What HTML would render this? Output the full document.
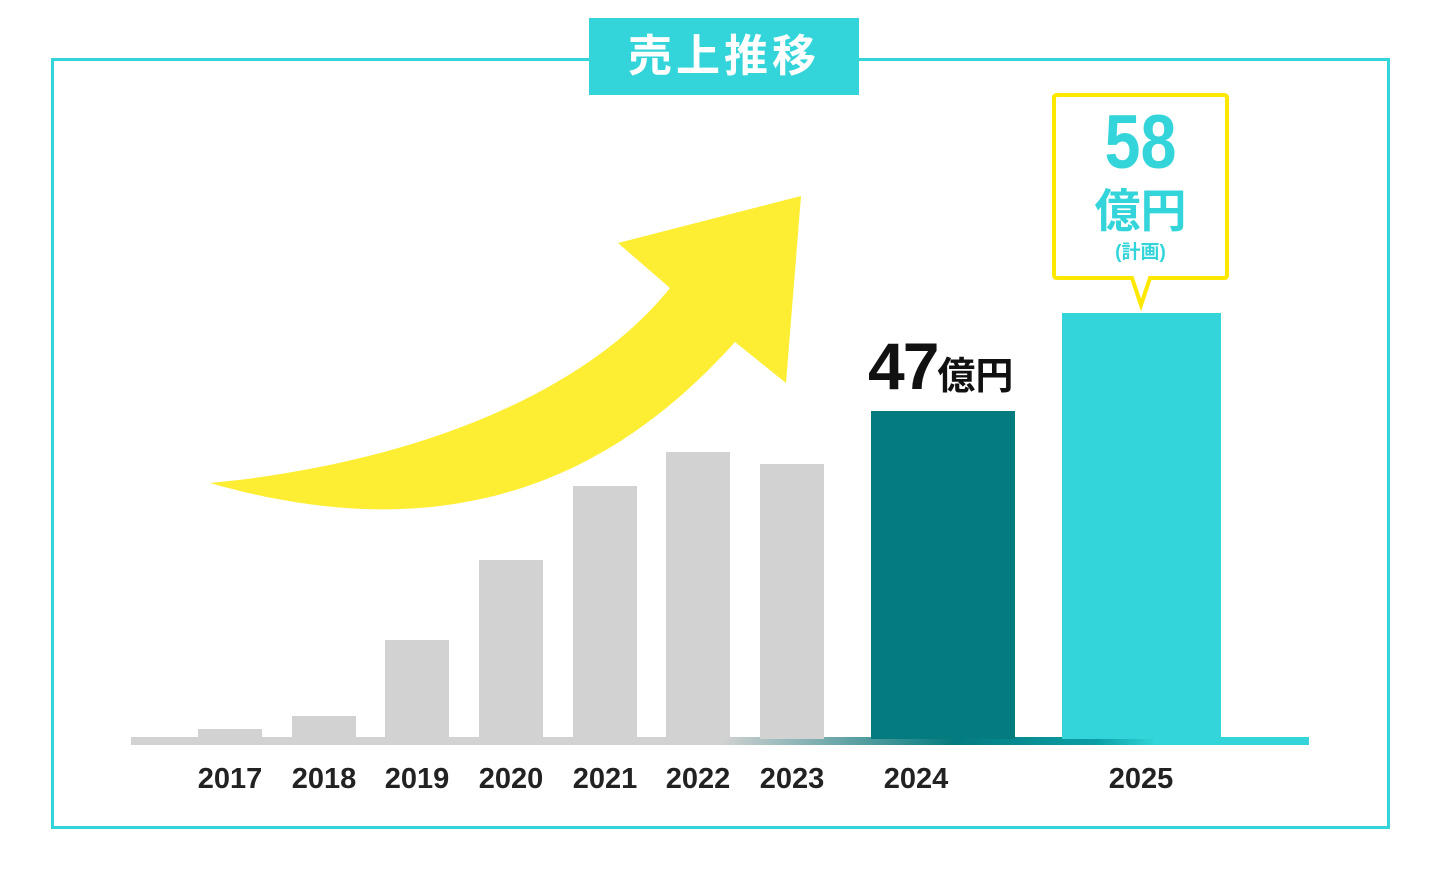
<!DOCTYPE html>
<html><head><meta charset="utf-8"><style>
body{margin:0;width:1440px;height:880px;background:#fff;position:relative;overflow:hidden;font-family:"Liberation Sans","Noto Sans CJK JP",sans-serif}
.a{position:absolute}
.frame{left:51px;top:58px;width:1333px;height:765px;border:3px solid #33d5da}
.title{left:589px;top:18px;width:270px;height:77px;background:#33d5da;color:#fff;font-size:44px;font-weight:bold;text-align:center;line-height:77px;letter-spacing:4px}
.g{background:#d2d2d2}
.yr{top:763px;font-size:29px;font-weight:bold;color:#222;width:100px;text-align:center;font-family:"Liberation Sans Narrow","Liberation Sans",sans-serif}
</style></head><body>
<div class="a frame"></div>
<div class="a title">売上推移</div>
<svg class="a" style="left:0;top:0" width="1440" height="880">
<path d="M210,483 C400,465 580,400 670,288 L618,243 L801,196 L786,383 L735,342 C620,470 460,555 210,483 Z" fill="#fdee33"/>
<defs><linearGradient id="bl" x1="0" x2="1"><stop offset="0" stop-color="#d2d2d2"/><stop offset="0.5" stop-color="#d2d2d2"/><stop offset="0.7" stop-color="#037b7f"/><stop offset="0.82" stop-color="#0a9fa5"/><stop offset="0.87" stop-color="#33d5da"/><stop offset="1" stop-color="#33d5da"/></linearGradient></defs>
<rect x="131" y="737" width="1178" height="8" fill="url(#bl)"/>
<path d="M1057,95 H1224 Q1227,95 1227,98 V275 Q1227,278 1224,278 H1150 L1141,305 L1132,278 H1057 Q1054,278 1054,275 V98 Q1054,95 1057,95 Z" fill="#fff" stroke="#ffe800" stroke-width="4"/>
</svg>
<div class="a g" style="left:198px;top:729px;width:64px;height:10px"></div>
<div class="a g" style="left:292px;top:716px;width:64px;height:23px"></div>
<div class="a g" style="left:385px;top:640px;width:64px;height:99px"></div>
<div class="a g" style="left:479px;top:560px;width:64px;height:179px"></div>
<div class="a g" style="left:573px;top:486px;width:64px;height:253px"></div>
<div class="a g" style="left:666px;top:452px;width:64px;height:287px"></div>
<div class="a g" style="left:760px;top:464px;width:64px;height:275px"></div>
<div class="a" style="left:871px;top:411px;width:144px;height:328px;background:#037b7f"></div>
<div class="a" style="left:1062px;top:313px;width:159px;height:426px;background:#33d5da"></div>
<div class="a yr" style="left:180px">2017</div>
<div class="a yr" style="left:274px">2018</div>
<div class="a yr" style="left:367px">2019</div>
<div class="a yr" style="left:461px">2020</div>
<div class="a yr" style="left:555px">2021</div>
<div class="a yr" style="left:648px">2022</div>
<div class="a yr" style="left:742px">2023</div>
<div class="a yr" style="left:866px">2024</div>
<div class="a yr" style="left:1091px">2025</div>
<div class="a" style="left:868px;top:328px;font-weight:bold;color:#111;white-space:nowrap"><span style="font-size:66px;letter-spacing:-2px">47</span><span style="font-size:38px">億円</span></div>
<div class="a" style="left:1054px;top:102px;width:173px;text-align:center;color:#33d5da;font-weight:bold">
<div style="font-size:76px;line-height:82px;transform:scaleX(0.85)">58</div>
<div style="font-size:46px;line-height:54px">億円</div>
<div style="font-size:19px;line-height:30px">(計画)</div>
</div>
</body></html>
